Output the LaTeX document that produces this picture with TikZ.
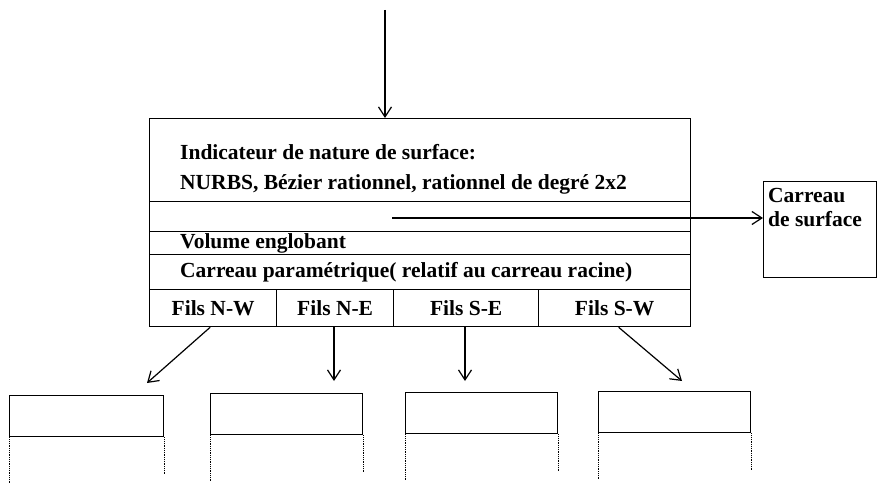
\documentclass[tikz,border=0pt]{standalone}
\usepackage{fontspec}
\setmainfont{Liberation Serif}
\usetikzlibrary{arrows.meta}
\begin{document}
\begin{tikzpicture}[x=1pt,y=-1pt,
  box/.style={draw, line width=1.3pt, inner sep=0pt, anchor=north west},
  lbl/.style={font=\fontsize{21.5}{24}\selectfont\bfseries, inner sep=0pt},
  conn/.style={line width=1.2pt, -{Straight Barb[length=10pt,width=13pt,line width=1.2pt]}},
  trail/.style={line width=0.8pt, densely dotted}]
\useasboundingbox (0,0) rectangle (878,486);
% main record
\node[box, minimum width=541pt, minimum height=83pt] (r1) at (149,118) {};
\node[box, minimum width=541pt, minimum height=30pt] (r2) at (149,201) {};
\node[box, minimum width=541pt, minimum height=23pt] (r3) at (149,231) {};
\node[box, minimum width=541pt, minimum height=35pt] (r4) at (149,254) {};
\node[box, lbl, minimum width=127pt, minimum height=37pt] (nw) at (149,289) {Fils N-W};
\node[box, lbl, minimum width=117pt, minimum height=37pt] (ne) at (276,289) {Fils N-E};
\node[box, lbl, minimum width=145pt, minimum height=37pt] (se) at (393,289) {Fils S-E};
\node[box, lbl, minimum width=152pt, minimum height=37pt] (sw) at (538,289) {Fils S-W};
\node[lbl, anchor=base west] (t1) at (180,160) {Indicateur de nature de surface:};
\node[lbl, anchor=base west] (t2) at (180,190) {NURBS, Bézier rationnel, rationnel de degré 2x2};
\node[lbl, anchor=base west] (t3) at (180,249) {Volume englobant};
\node[lbl, anchor=base west] (t4) at (180,278) {Carreau paramétrique( relatif au carreau racine)};
% surface patch box
\node[box, minimum width=113pt, minimum height=96pt] (surf) at (763,181) {};
\node[lbl, anchor=north west, align=left] (st) at (768,188) {Carreau\\de surface};
% connectors
\coordinate (in) at (385,10);
\draw[conn] (in) -- (in |- r1.north);
\coordinate (ptr) at (392,218);
\draw[conn] (ptr) -- (ptr -| surf.west);
% children
\node[box, minimum width=154pt, minimum height=41pt] (c1) at (9,395) {};
\node[box, minimum width=152pt, minimum height=41pt] (c2) at (210,393) {};
\node[box, minimum width=152pt, minimum height=41pt] (c3) at (405,392) {};
\node[box, minimum width=152pt, minimum height=41pt] (c4) at (598,391) {};
\foreach \c in {c1,c2,c3,c4}{
  \draw[trail] (\c.south west) -- ++(0,46);
  \draw[trail] (\c.south east) -- ++(0,37);
}
\coordinate (e1) at (147,383);
\coordinate (e2) at (334,381);
\coordinate (e3) at (465,381);
\coordinate (e4) at (682,381);
\draw[conn] ([xshift=-3pt]nw.south) -- (e1);
\draw[conn] (ne.south -| e2) -- (e2);
\draw[conn] (se.south -| e3) -- (e3);
\draw[conn] ([xshift=4pt]sw.south) -- (e4);
\end{tikzpicture}
\end{document}
